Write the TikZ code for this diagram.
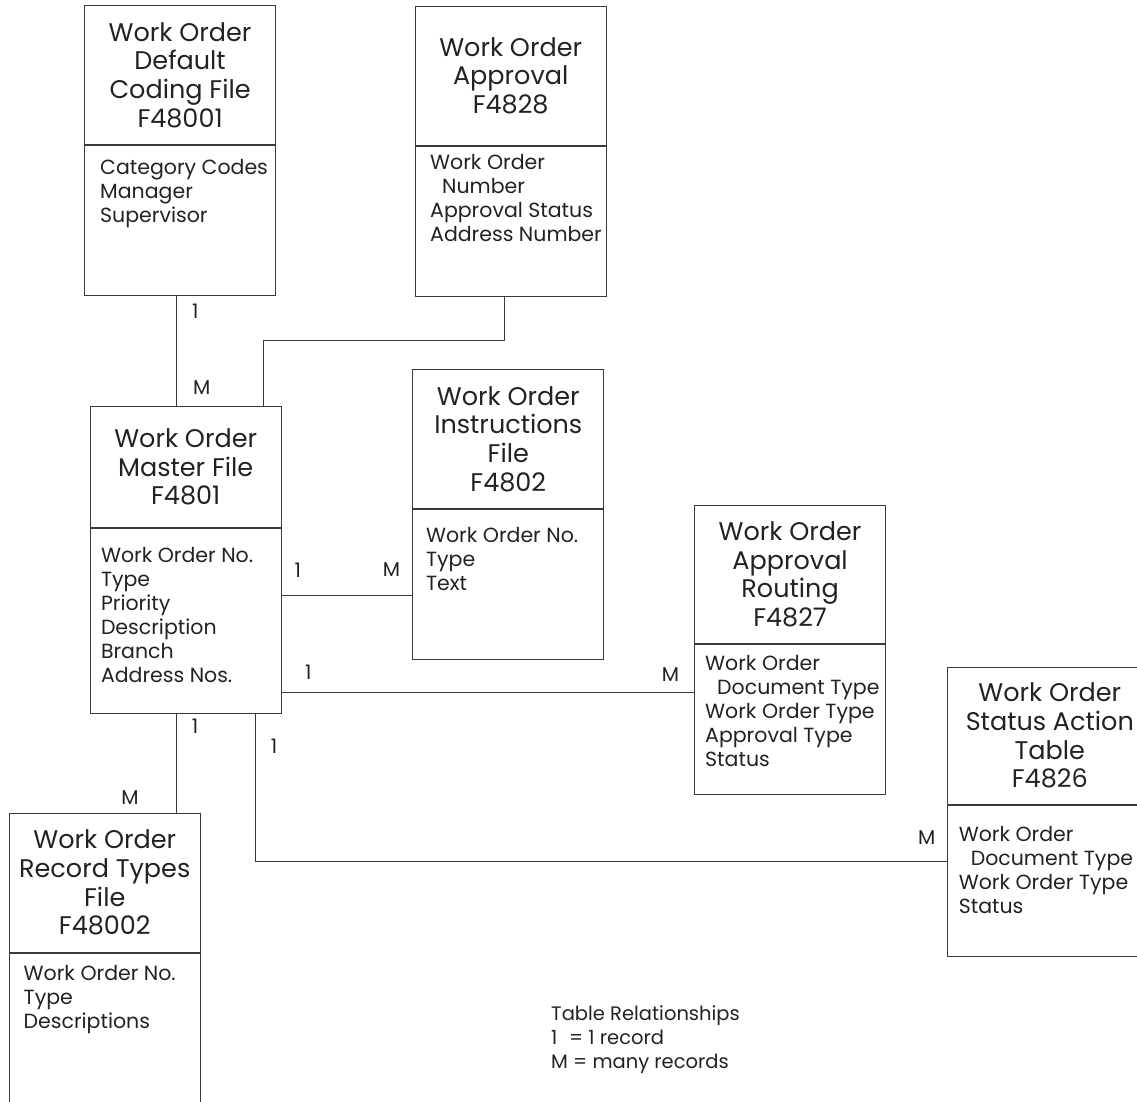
\documentclass[tikz,border=0pt]{standalone}
\usepackage{fontspec}
\setmainfont{Poppins}
\usetikzlibrary{calc}
\definecolor{ln}{HTML}{3A3A3A}
\definecolor{tx}{HTML}{222222}
\begin{document}
\begin{tikzpicture}[x=1pt,y=-1pt,
  hdr/.style={draw=ln, line width=0.8pt, anchor=north west, minimum width=191pt, inner sep=0pt, align=center, font=\fontsize{25.5}{28.7}\selectfont, text=tx},
  bdy/.style={draw=ln, line width=0.8pt, anchor=north west, minimum width=191pt, minimum height=150pt, inner sep=0pt},
  btxt/.style={anchor=north west, inner sep=0pt, align=left, font=\fontsize{20.5}{24}\selectfont, text=tx},
  lbl/.style={inner sep=0pt, font=\fontsize{20}{24}\selectfont, text=tx},
  conn/.style={draw=ln, line width=0.8pt}]
\useasboundingbox (0,0) rectangle (1137,1101);
\clip (0,0) rectangle (1137,1101);

% F48001
\node[hdr, minimum height=138.4pt] (d1) at (84.2,5.3) {Work Order\\Default\\Coding File\\F48001};
\node[bdy, minimum height=150.3pt] (d1b) at (d1.south west) {};
\node[btxt] (d1t) at (100,159) {Category Codes\\Manager\\Supervisor};

% F4828
\node[hdr, minimum height=138.7pt] (a2) at (414.8,6) {Work Order\\Approval\\F4828};
\node[bdy, minimum height=150pt] (a2b) at (a2.south west) {};
\node[btxt] (a2t) at (430,154.5) {Work Order\\\hspace*{12pt}Number\\Approval Status\\Address Number};

% F4801
\node[hdr, minimum height=121.6pt] (m) at (89.8,405.7) {Work Order\\Master File\\F4801};
\node[bdy, minimum height=184.7pt] (mb) at (m.south west) {};
\node[btxt] (mt) at (100.8,547) {Work Order No.\\Type\\Priority\\Description\\Branch\\Address Nos.};

% F4802
\node[hdr, minimum height=138.7pt] (i) at (412.4,369.3) {Work Order\\Instructions\\File\\F4802};
\node[bdy, minimum height=150pt] (ib) at (i.south west) {};
\node[btxt] (it) at (425.9,527) {Work Order No.\\Type\\Text};

% F4827
\node[hdr, minimum height=138.6pt] (r) at (694.2,504.7) {Work Order\\Approval\\Routing\\F4827};
\node[bdy, minimum height=150pt] (rb) at (r.south west) {};
\node[btxt] (rt) at (705,655) {Work Order\\\hspace*{12pt}Document Type\\Work Order Type\\Approval Type\\Status};

% F4826
\node[hdr, minimum height=137.3pt, minimum width=205pt] (s) at (946.9,666.7) {Work Order\\Status Action\\Table\\F4826};
\node[bdy, minimum height=150.7pt, minimum width=205pt] (sb) at (s.south west) {};
\node[btxt] (st) at (958.6,826) {Work Order\\\hspace*{12pt}Document Type\\Work Order Type\\Status};

% F48002
\node[hdr, minimum height=138.7pt, minimum width=190.3pt] (t) at (9.2,813) {Work Order\\Record Types\\File\\F48002};
\node[bdy, minimum height=152pt, minimum width=190.3pt] (tb) at (t.south west) {};
\node[btxt] (tt) at (23.5,965) {Work Order No.\\Type\\Descriptions};

% connectors
\draw[conn] (d1b.south west) ++(92.5,0) coordinate (c1) -- (c1 |- m.north);
\draw[conn] (a2b.south west) ++(89.7,0) coordinate (c2);
\coordinate (j2) at ($(m.north west)+(173.9,-65)$);
\draw[conn] (c2) |- (j2) -- (j2 |- m.north);
\coordinate (c3) at ($(mb.north east)+(0,67.4)$);
\draw[conn] (c3) -- (c3 -| ib.west);
\coordinate (c4) at ($(mb.north east)+(0,164.3)$);
\draw[conn] (c4) -- (c4 -| rb.west);
\coordinate (c5) at ($(mb.south west)+(86.9,0)$);
\draw[conn] (c5) -- (c5 |- t.north);
\coordinate (c6) at ($(mb.south west)+(166,0)$);
\coordinate (c7) at ($(sb.north west)+(0,56.5)$);
\draw[conn] (c6) |- (c7);

% cardinality labels
\node[lbl] (l1) at (195.4,311.7) {1};
\node[lbl] (l2) at (201.7,387.5) {M};
\node[lbl] (l3) at (297.7,570) {1};
\node[lbl] (l4) at (391.5,570) {M};
\node[lbl] (l5) at (308.4,672.5) {1};
\node[lbl] (l6) at (670.5,674.7) {M};
\node[lbl] (l7) at (195,726.7) {1};
\node[lbl] (l8) at (274,746.7) {1};
\node[lbl] (l9) at (130,798) {M};
\node[lbl] (l10) at (926.7,837.2) {M};

% legend
\node[btxt, font=\fontsize{19.5}{24}\selectfont] (lg) at (551,1005.5) {Table Relationships\\1\hspace{0.6em}= 1 record\\M = many records};
\end{tikzpicture}
\end{document}
